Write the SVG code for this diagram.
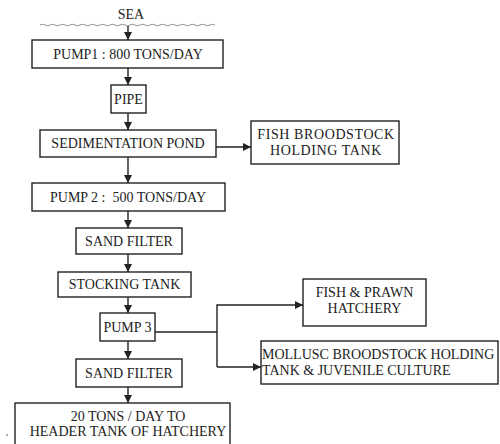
<svg xmlns="http://www.w3.org/2000/svg" width="500" height="444" viewBox="0 0 500 444">
<defs>
<style>
.box{fill:#fff;stroke:#222;stroke-width:1.4}
.t{font-family:"Liberation Serif","Times New Roman","DejaVu Serif",serif;font-size:14px;fill:#222;text-anchor:middle}
.c{fill:none;stroke:#222;stroke-width:1.4}
</style>
<marker id="ah" viewBox="0 0 10 10" refX="10" refY="5" markerWidth="8" markerHeight="8" markerUnits="userSpaceOnUse" orient="auto">
<path d="M0,0 L10,5 L0,10 z" fill="#222"/>
</marker>
</defs>
<rect width="500" height="444" fill="#fff"/>
<g id="sea">
<text class="t" x="131" y="19" font-size="13">SEA</text>
<path d="M40,25 q2.5,-1.5 5,0 t5,0 t5,0 t5,0 t5,0 t5,0 t5,0 t5,0 t5,0 t5,0 t5,0 t5,0 t5,0 t5,0 t5,0 t5,0 t5,0 t5,0 t5,0 t5,0 t5,0 t5,0 t5,0 t5,0 t5,0 t5,0 t5,0 t5,0 t5,0 t5,0 t5,0 t5,0 t5,0 t5,0 t5,0" fill="none" stroke="#777" stroke-width="0.8"/>
</g>
<g id="connectors">
<line class="c" x1="128" y1="26" x2="128" y2="40" marker-end="url(#ah)"/>
<line class="c" x1="128" y1="68" x2="128" y2="85" marker-end="url(#ah)"/>
<line class="c" x1="128" y1="113" x2="128" y2="130" marker-end="url(#ah)"/>
<line class="c" x1="216" y1="147" x2="251" y2="147" marker-end="url(#ah)"/>
<line class="c" x1="128" y1="157" x2="128" y2="183" marker-end="url(#ah)"/>
<line class="c" x1="128" y1="211" x2="128" y2="228" marker-end="url(#ah)"/>
<line class="c" x1="128" y1="254" x2="128" y2="272" marker-end="url(#ah)"/>
<line class="c" x1="128" y1="297" x2="128" y2="313" marker-end="url(#ah)"/>
<polyline class="c" points="155,332 217,332"/>
<polyline class="c" points="217,367 217,305 303,305" marker-end="url(#ah)"/>
<polyline class="c" points="217,367 261,367" marker-end="url(#ah)"/>
<line class="c" x1="128" y1="341" x2="128" y2="359" marker-end="url(#ah)"/>
<line class="c" x1="128" y1="387" x2="128" y2="403" marker-end="url(#ah)"/>
</g>
<g id="pump1">
<rect class="box" x="32" y="40" width="191" height="28"/>
<text class="t" x="128" y="59">PUMP1 : 800 TONS/DAY</text>
</g>
<g id="pipe">
<rect class="box" x="111" y="85" width="35" height="28"/>
<text class="t" x="128.5" y="104">PIPE</text>
</g>
<g id="sedimentation">
<rect class="box" x="40" y="130" width="176" height="27"/>
<text class="t" x="128" y="148">SEDIMENTATION POND</text>
</g>
<g id="broodstock">
<rect class="box" x="251" y="121" width="148" height="43"/>
<text class="t" x="326" y="139" font-size="13.5" letter-spacing="0.6">FISH BROODSTOCK</text>
<text class="t" x="326" y="155" font-size="13.5" letter-spacing="0.6">HOLDING TANK</text>
</g>
<g id="pump2">
<rect class="box" x="32" y="183" width="193" height="28"/>
<text class="t" x="128" y="202" xml:space="preserve">PUMP 2 :  500 TONS/DAY</text>
</g>
<g id="sandfilter1">
<rect class="box" x="76" y="228" width="106" height="26"/>
<text class="t" x="129" y="246">SAND FILTER</text>
</g>
<g id="stocking">
<rect class="box" x="58" y="272" width="133" height="25"/>
<text class="t" x="124.5" y="289">STOCKING TANK</text>
</g>
<g id="pump3">
<rect class="box" x="100" y="313" width="55" height="28"/>
<text class="t" x="127.5" y="332">PUMP 3</text>
</g>
<g id="hatchery">
<rect class="box" x="303" y="279" width="123" height="47"/>
<text class="t" x="364.5" y="297">FISH &amp; PRAWN</text>
<text class="t" x="364.5" y="313">HATCHERY</text>
</g>
<g id="mollusc">
<rect class="box" x="261" y="341" width="237" height="43"/>
<text class="t" x="262" y="359" style="text-anchor:start" font-size="14">MOLLUSC BROODSTOCK HOLDING</text>
<text class="t" x="262" y="375" style="text-anchor:start" font-size="14">TANK &amp; JUVENILE CULTURE</text>
</g>
<g id="sandfilter2">
<rect class="box" x="76" y="359" width="106" height="28"/>
<text class="t" x="129" y="378">SAND FILTER</text>
</g>
<g id="header">
<rect class="box" x="15" y="403" width="215" height="44"/>
<text class="t" x="128" y="421">20 TONS / DAY TO</text>
<text class="t" x="128" y="436">HEADER TANK OF HATCHERY</text>
</g>
<circle cx="7" cy="435" r="0.8" fill="#444"/>
</svg>
